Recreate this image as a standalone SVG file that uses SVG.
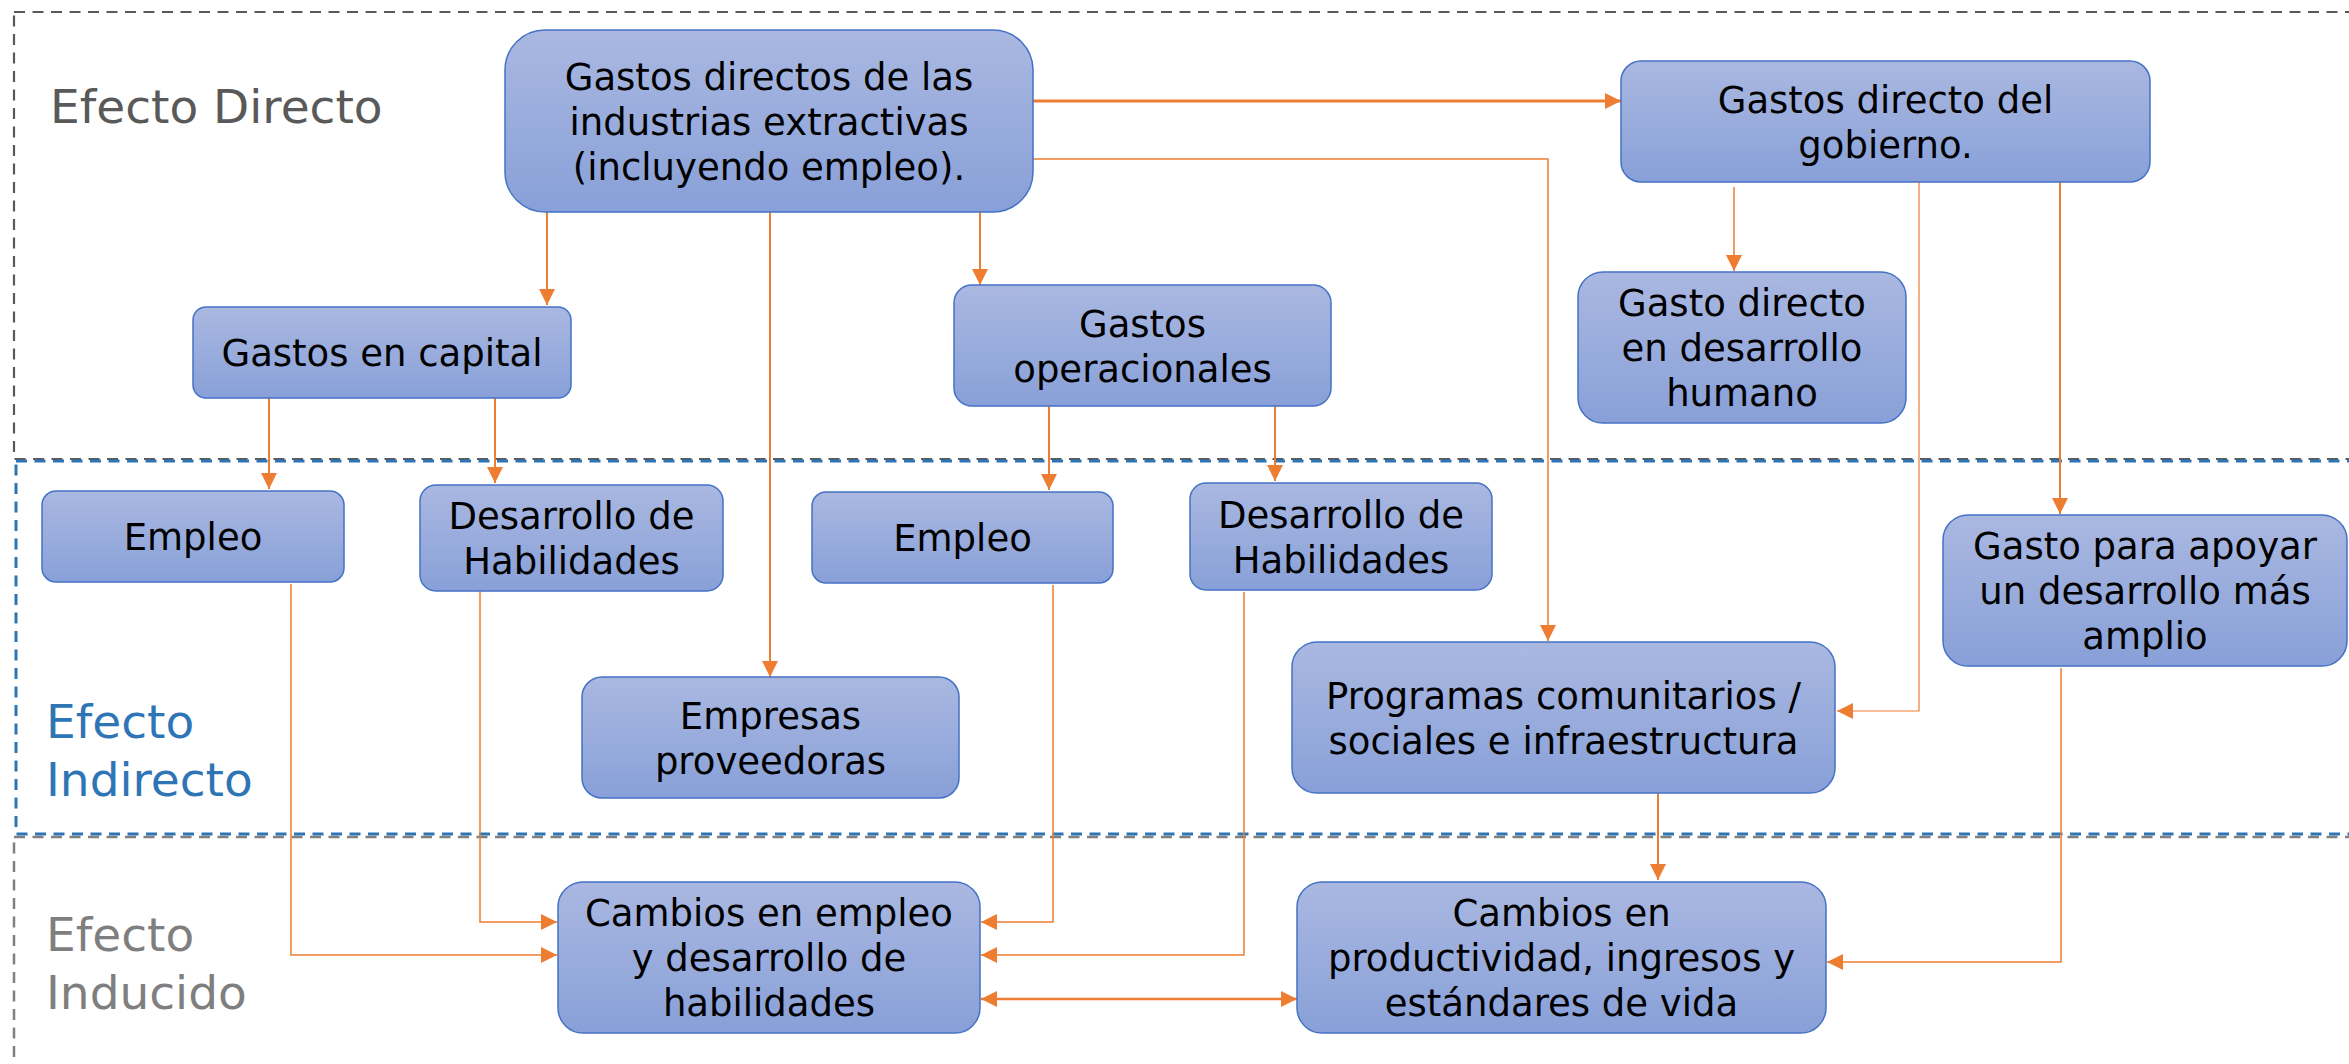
<svg xmlns="http://www.w3.org/2000/svg" width="2349" height="1064" viewBox="0 0 2349 1064">
<defs>
<linearGradient id="bg" x1="0" y1="0" x2="0" y2="1">
<stop offset="0" stop-color="#AAB8E1"/>
<stop offset="1" stop-color="#88A0D8"/>
</linearGradient>
<marker id="ah" markerWidth="18" markerHeight="18" refX="16" refY="8" orient="auto-start-reverse" markerUnits="userSpaceOnUse">
<path d="M0,0 L16,8 L0,16 z" fill="#ED7D31"/>
</marker>
</defs>
<style>
.box{fill:url(#bg);stroke:#4472C4;stroke-width:1.5}
.t{font-family:"DejaVu Sans","Verdana",sans-serif;font-size:37px;fill:#000;text-anchor:middle}
.lbl{font-family:"DejaVu Sans","Verdana",sans-serif;font-size:47px}
.c{fill:none;stroke:#ED7D31;stroke-width:2;marker-end:url(#ah)}
.thin{stroke-width:1.5}
.zone{fill:none;stroke-dasharray:11 7.5}
</style>
<rect width="2349" height="1064" fill="#fff"/>
<g id="zones">
<rect class="zone" x="14" y="12" width="2400" height="447" stroke="#595959" stroke-width="2.2"/>
<rect class="zone" x="14" y="837" width="2400" height="300" stroke="#808080" stroke-width="2.5"/>
<rect class="zone" x="16" y="461" width="2400" height="373" stroke="#2E75B6" stroke-width="3"/>
<text class="lbl" x="50" y="123" fill="#595959">Efecto Directo</text>
<text class="lbl" x="46" y="738" fill="#2E75B6">Efecto</text>
<text class="lbl" x="46" y="796" fill="#2E75B6">Indirecto</text>
<text class="lbl" x="46" y="951" fill="#7F7F7F">Efecto</text>
<text class="lbl" x="46" y="1009" fill="#7F7F7F">Inducido</text>
</g>
<g id="connectors">
<path class="c" d="M1033,101 H1621" style="stroke-width:3"/>
<path class="c thin" d="M1033,159 H1548 V641"/>
<path class="c" d="M547,212 V305"/>
<path class="c" d="M770,212 V677"/>
<path class="c" d="M980,212 V285"/>
<path class="c thin" d="M1734,187 V271"/>
<path class="c" d="M1919,182 V711 H1837" style="stroke-width:1.2"/>
<path class="c" d="M2060,182 V514"/>
<path class="c" d="M269,398 V489"/>
<path class="c" d="M495,398 V483"/>
<path class="c" d="M1049,406 V490"/>
<path class="c" d="M1275,406 V481"/>
<path class="c thin" d="M291,584 V955 H557"/>
<path class="c thin" d="M480,591 V922 H557"/>
<path class="c thin" d="M1053,585 V922 H981"/>
<path class="c thin" d="M1244,592 V955 H981"/>
<path class="c" d="M1658,793 V880"/>
<path class="c thin" d="M2061,668 V962 H1827"/>
<path class="c" d="M981,999 H1297" style="stroke-width:2.5;marker-start:url(#ah)"/>
</g>
<g id="n-main"><rect class="box" x="505" y="30" width="528" height="182" rx="40"/>
<text class="t" x="769" y="89.5">Gastos directos de las</text>
<text class="t" x="769" y="134.5">industrias extractivas</text>
<text class="t" x="769" y="179.5">(incluyendo empleo).</text></g>
<g id="n-gov"><rect class="box" x="1621" y="61" width="529" height="121" rx="20"/>
<text class="t" x="1885.5" y="112.5">Gastos directo del</text>
<text class="t" x="1885.5" y="157.5">gobierno.</text></g>
<g id="n-capital"><rect class="box" x="193" y="307" width="378" height="91" rx="13"/>
<text class="t" x="382" y="366">Gastos en capital</text></g>
<g id="n-operacionales"><rect class="box" x="954" y="285" width="377" height="121" rx="18"/>
<text class="t" x="1142.5" y="336.5">Gastos</text>
<text class="t" x="1142.5" y="381.5">operacionales</text></g>
<g id="n-humano"><rect class="box" x="1578" y="272" width="328" height="151" rx="25"/>
<text class="t" x="1742" y="316">Gasto directo</text>
<text class="t" x="1742" y="361">en desarrollo</text>
<text class="t" x="1742" y="406">humano</text></g>
<g id="n-empleo1"><rect class="box" x="42" y="491" width="302" height="91" rx="14"/>
<text class="t" x="193" y="550">Empleo</text></g>
<g id="n-hab1"><rect class="box" x="420" y="485" width="303" height="106" rx="16"/>
<text class="t" x="571.5" y="529">Desarrollo de</text>
<text class="t" x="571.5" y="574">Habilidades</text></g>
<g id="n-empleo2"><rect class="box" x="812" y="492" width="301" height="91" rx="14"/>
<text class="t" x="962.5" y="551">Empleo</text></g>
<g id="n-hab2"><rect class="box" x="1190" y="483" width="302" height="107" rx="16"/>
<text class="t" x="1341" y="527.5">Desarrollo de</text>
<text class="t" x="1341" y="572.5">Habilidades</text></g>
<g id="n-empresas"><rect class="box" x="582" y="677" width="377" height="121" rx="20"/>
<text class="t" x="770.5" y="728.5">Empresas</text>
<text class="t" x="770.5" y="773.5">proveedoras</text></g>
<g id="n-programas"><rect class="box" x="1292" y="642" width="543" height="151" rx="25"/>
<text class="t" x="1563.5" y="708.5">Programas comunitarios /</text>
<text class="t" x="1563.5" y="753.5">sociales e infraestructura</text></g>
<g id="n-apoyar"><rect class="box" x="1943" y="515" width="404" height="151" rx="25"/>
<text class="t" x="2145" y="559">Gasto para apoyar</text>
<text class="t" x="2145" y="604">un desarrollo más</text>
<text class="t" x="2145" y="649">amplio</text></g>
<g id="n-cambios-empleo"><rect class="box" x="558" y="882" width="422" height="151" rx="25"/>
<text class="t" x="769" y="926">Cambios en empleo</text>
<text class="t" x="769" y="971">y desarrollo de</text>
<text class="t" x="769" y="1016">habilidades</text></g>
<g id="n-cambios-prod"><rect class="box" x="1297" y="882" width="529" height="151" rx="25"/>
<text class="t" x="1561.5" y="926">Cambios en</text>
<text class="t" x="1561.5" y="971">productividad, ingresos y</text>
<text class="t" x="1561.5" y="1016">estándares de vida</text></g>
</svg>
